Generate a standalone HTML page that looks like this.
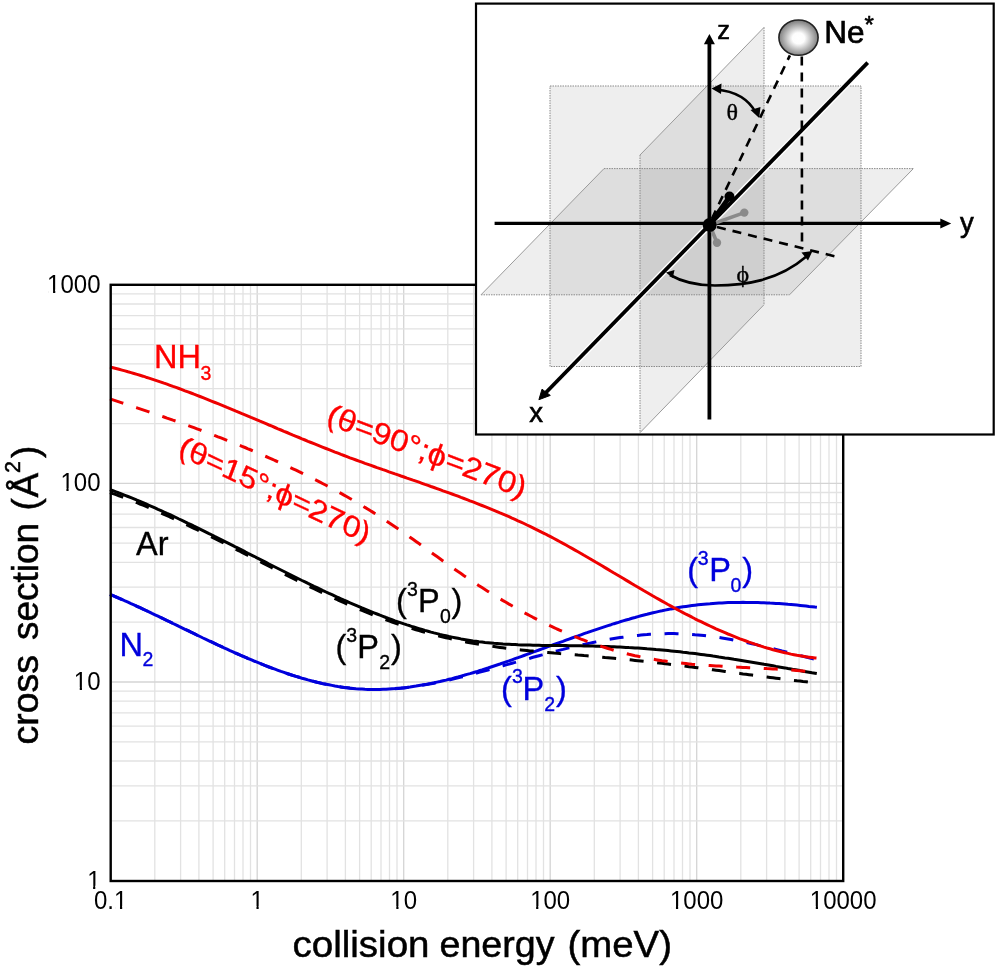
<!DOCTYPE html>
<html><head><meta charset="utf-8">
<style>
html,body{margin:0;padding:0;background:#fff;}
body{width:995px;height:970px;overflow:hidden;}
svg{display:block;font-family:"Liberation Sans",sans-serif;will-change:transform;}
</style></head>
<body>
<svg width="995" height="970" viewBox="0 0 995 970">
<defs>
<radialGradient id="ball" cx="0.5" cy="0.52" r="0.52">
<stop offset="0" stop-color="#ffffff"/>
<stop offset="0.3" stop-color="#fdfdfd"/>
<stop offset="0.65" stop-color="#bababa"/>
<stop offset="1" stop-color="#787878"/>
</radialGradient>
</defs>
<rect width="995" height="970" fill="#fff"/>
<g>
<line x1="154.8" y1="286" x2="154.8" y2="880" stroke="#e2e2e2" stroke-width="1.3"/>
<line x1="180.6" y1="286" x2="180.6" y2="880" stroke="#e2e2e2" stroke-width="1.3"/>
<line x1="198.9" y1="286" x2="198.9" y2="880" stroke="#e2e2e2" stroke-width="1.3"/>
<line x1="213.1" y1="286" x2="213.1" y2="880" stroke="#e2e2e2" stroke-width="1.3"/>
<line x1="224.7" y1="286" x2="224.7" y2="880" stroke="#e2e2e2" stroke-width="1.3"/>
<line x1="234.5" y1="286" x2="234.5" y2="880" stroke="#e2e2e2" stroke-width="1.3"/>
<line x1="243.0" y1="286" x2="243.0" y2="880" stroke="#e2e2e2" stroke-width="1.3"/>
<line x1="250.5" y1="286" x2="250.5" y2="880" stroke="#e2e2e2" stroke-width="1.3"/>
<line x1="257.2" y1="286" x2="257.2" y2="880" stroke="#d4d4d4" stroke-width="1.3"/>
<line x1="301.3" y1="286" x2="301.3" y2="880" stroke="#e2e2e2" stroke-width="1.3"/>
<line x1="327.1" y1="286" x2="327.1" y2="880" stroke="#e2e2e2" stroke-width="1.3"/>
<line x1="345.4" y1="286" x2="345.4" y2="880" stroke="#e2e2e2" stroke-width="1.3"/>
<line x1="359.6" y1="286" x2="359.6" y2="880" stroke="#e2e2e2" stroke-width="1.3"/>
<line x1="371.2" y1="286" x2="371.2" y2="880" stroke="#e2e2e2" stroke-width="1.3"/>
<line x1="381.0" y1="286" x2="381.0" y2="880" stroke="#e2e2e2" stroke-width="1.3"/>
<line x1="389.5" y1="286" x2="389.5" y2="880" stroke="#e2e2e2" stroke-width="1.3"/>
<line x1="397.0" y1="286" x2="397.0" y2="880" stroke="#e2e2e2" stroke-width="1.3"/>
<line x1="403.7" y1="286" x2="403.7" y2="880" stroke="#d4d4d4" stroke-width="1.3"/>
<line x1="447.8" y1="286" x2="447.8" y2="880" stroke="#e2e2e2" stroke-width="1.3"/>
<line x1="473.6" y1="286" x2="473.6" y2="880" stroke="#e2e2e2" stroke-width="1.3"/>
<line x1="491.9" y1="286" x2="491.9" y2="880" stroke="#e2e2e2" stroke-width="1.3"/>
<line x1="506.1" y1="286" x2="506.1" y2="880" stroke="#e2e2e2" stroke-width="1.3"/>
<line x1="517.7" y1="286" x2="517.7" y2="880" stroke="#e2e2e2" stroke-width="1.3"/>
<line x1="527.5" y1="286" x2="527.5" y2="880" stroke="#e2e2e2" stroke-width="1.3"/>
<line x1="536.0" y1="286" x2="536.0" y2="880" stroke="#e2e2e2" stroke-width="1.3"/>
<line x1="543.5" y1="286" x2="543.5" y2="880" stroke="#e2e2e2" stroke-width="1.3"/>
<line x1="550.2" y1="286" x2="550.2" y2="880" stroke="#d4d4d4" stroke-width="1.3"/>
<line x1="594.3" y1="286" x2="594.3" y2="880" stroke="#e2e2e2" stroke-width="1.3"/>
<line x1="620.1" y1="286" x2="620.1" y2="880" stroke="#e2e2e2" stroke-width="1.3"/>
<line x1="638.4" y1="286" x2="638.4" y2="880" stroke="#e2e2e2" stroke-width="1.3"/>
<line x1="652.6" y1="286" x2="652.6" y2="880" stroke="#e2e2e2" stroke-width="1.3"/>
<line x1="664.2" y1="286" x2="664.2" y2="880" stroke="#e2e2e2" stroke-width="1.3"/>
<line x1="674.0" y1="286" x2="674.0" y2="880" stroke="#e2e2e2" stroke-width="1.3"/>
<line x1="682.5" y1="286" x2="682.5" y2="880" stroke="#e2e2e2" stroke-width="1.3"/>
<line x1="690.0" y1="286" x2="690.0" y2="880" stroke="#e2e2e2" stroke-width="1.3"/>
<line x1="696.7" y1="286" x2="696.7" y2="880" stroke="#d4d4d4" stroke-width="1.3"/>
<line x1="740.8" y1="286" x2="740.8" y2="880" stroke="#e2e2e2" stroke-width="1.3"/>
<line x1="766.6" y1="286" x2="766.6" y2="880" stroke="#e2e2e2" stroke-width="1.3"/>
<line x1="784.9" y1="286" x2="784.9" y2="880" stroke="#e2e2e2" stroke-width="1.3"/>
<line x1="799.1" y1="286" x2="799.1" y2="880" stroke="#e2e2e2" stroke-width="1.3"/>
<line x1="810.7" y1="286" x2="810.7" y2="880" stroke="#e2e2e2" stroke-width="1.3"/>
<line x1="820.5" y1="286" x2="820.5" y2="880" stroke="#e2e2e2" stroke-width="1.3"/>
<line x1="829.0" y1="286" x2="829.0" y2="880" stroke="#e2e2e2" stroke-width="1.3"/>
<line x1="836.5" y1="286" x2="836.5" y2="880" stroke="#e2e2e2" stroke-width="1.3"/>
<line x1="112" y1="820.8" x2="842" y2="820.8" stroke="#e2e2e2" stroke-width="1.3"/>
<line x1="112" y1="785.8" x2="842" y2="785.8" stroke="#e2e2e2" stroke-width="1.3"/>
<line x1="112" y1="761.0" x2="842" y2="761.0" stroke="#e2e2e2" stroke-width="1.3"/>
<line x1="112" y1="741.8" x2="842" y2="741.8" stroke="#e2e2e2" stroke-width="1.3"/>
<line x1="112" y1="726.1" x2="842" y2="726.1" stroke="#e2e2e2" stroke-width="1.3"/>
<line x1="112" y1="712.8" x2="842" y2="712.8" stroke="#e2e2e2" stroke-width="1.3"/>
<line x1="112" y1="701.2" x2="842" y2="701.2" stroke="#e2e2e2" stroke-width="1.3"/>
<line x1="112" y1="691.1" x2="842" y2="691.1" stroke="#e2e2e2" stroke-width="1.3"/>
<line x1="112" y1="682.0" x2="842" y2="682.0" stroke="#d4d4d4" stroke-width="1.3"/>
<line x1="112" y1="622.2" x2="842" y2="622.2" stroke="#e2e2e2" stroke-width="1.3"/>
<line x1="112" y1="587.2" x2="842" y2="587.2" stroke="#e2e2e2" stroke-width="1.3"/>
<line x1="112" y1="562.4" x2="842" y2="562.4" stroke="#e2e2e2" stroke-width="1.3"/>
<line x1="112" y1="543.2" x2="842" y2="543.2" stroke="#e2e2e2" stroke-width="1.3"/>
<line x1="112" y1="527.5" x2="842" y2="527.5" stroke="#e2e2e2" stroke-width="1.3"/>
<line x1="112" y1="514.2" x2="842" y2="514.2" stroke="#e2e2e2" stroke-width="1.3"/>
<line x1="112" y1="502.6" x2="842" y2="502.6" stroke="#e2e2e2" stroke-width="1.3"/>
<line x1="112" y1="492.5" x2="842" y2="492.5" stroke="#e2e2e2" stroke-width="1.3"/>
<line x1="112" y1="483.4" x2="842" y2="483.4" stroke="#d4d4d4" stroke-width="1.3"/>
<line x1="112" y1="423.6" x2="842" y2="423.6" stroke="#e2e2e2" stroke-width="1.3"/>
<line x1="112" y1="388.6" x2="842" y2="388.6" stroke="#e2e2e2" stroke-width="1.3"/>
<line x1="112" y1="363.8" x2="842" y2="363.8" stroke="#e2e2e2" stroke-width="1.3"/>
<line x1="112" y1="344.6" x2="842" y2="344.6" stroke="#e2e2e2" stroke-width="1.3"/>
<line x1="112" y1="328.9" x2="842" y2="328.9" stroke="#e2e2e2" stroke-width="1.3"/>
<line x1="112" y1="315.6" x2="842" y2="315.6" stroke="#e2e2e2" stroke-width="1.3"/>
<line x1="112" y1="304.0" x2="842" y2="304.0" stroke="#e2e2e2" stroke-width="1.3"/>
<line x1="112" y1="293.9" x2="842" y2="293.9" stroke="#e2e2e2" stroke-width="1.3"/>
</g>
<g>
<path d="M110.0,594.5 L113.0,595.7 L116.0,597.0 L119.0,598.3 L122.0,599.6 L125.0,600.9 L128.0,602.2 L131.0,603.6 L134.0,604.9 L137.0,606.3 L140.0,607.7 L143.0,609.1 L146.0,610.5 L149.0,611.9 L152.0,613.3 L155.0,614.7 L158.0,616.2 L161.0,617.6 L164.0,619.0 L167.0,620.5 L170.0,621.9 L173.0,623.4 L176.0,624.8 L179.0,626.3 L182.0,627.7 L185.0,629.2 L188.0,630.6 L191.0,632.1 L194.0,633.5 L197.0,635.0 L200.0,636.4 L203.0,637.9 L206.0,639.3 L209.0,640.7 L212.0,642.2 L215.0,643.6 L218.0,645.0 L221.0,646.4 L224.0,647.8 L227.0,649.1 L230.0,650.5 L233.0,651.9 L236.0,653.2 L239.0,654.5 L242.0,655.9 L245.0,657.2 L248.0,658.4 L251.0,659.7 L254.0,661.0 L257.0,662.2 L260.0,663.4 L263.0,664.6 L266.0,665.8 L269.0,667.0 L272.0,668.1 L275.0,669.2 L278.0,670.3 L281.0,671.4 L284.0,672.5 L287.0,673.5 L290.0,674.5 L293.0,675.5 L296.0,676.4 L299.0,677.3 L302.0,678.2 L305.0,679.1 L308.0,679.9 L311.0,680.7 L314.0,681.5 L317.0,682.3 L320.0,683.0 L323.0,683.7 L326.0,684.3 L329.0,684.9 L332.0,685.5 L335.0,686.0 L338.0,686.5 L341.0,687.0 L344.0,687.4 L347.0,687.8 L350.0,688.2 L353.0,688.5 L356.0,688.8 L359.0,689.0 L362.0,689.2 L365.0,689.4 L368.0,689.5 L371.0,689.5 L374.0,689.6 L377.0,689.5 L380.0,689.5 L383.0,689.4 L386.0,689.3 L389.0,689.1 L392.0,688.9 L395.0,688.7 L398.0,688.5 L401.0,688.2 L404.0,687.9 L407.0,687.5 L410.0,687.1 L413.0,686.7 L416.0,686.3 L419.0,685.8 L422.0,685.3 L425.0,684.8 L428.0,684.3 L431.0,683.7 L434.0,683.2 L437.0,682.6 L440.0,681.9 L443.0,681.3 L446.0,680.7 L449.0,680.0 L452.0,679.3 L455.0,678.6 L458.0,677.9 L461.0,677.1 L464.0,676.4 L467.0,675.6 L470.0,674.8 L473.0,674.0 L476.0,673.2 L479.0,672.4 L482.0,671.6 L485.0,670.8 L488.0,670.0 L491.0,669.1 L494.0,668.3 L497.0,667.5 L500.0,666.6 L503.0,665.8 L506.0,664.9 L509.0,664.1 L512.0,663.2 L515.0,662.4 L518.0,661.5 L521.0,660.7 L524.0,659.8 L527.0,659.0 L530.0,658.2 L533.0,657.3 L536.0,656.5 L539.0,655.7 L542.0,654.9 L545.0,654.0 L548.0,653.2 L551.0,652.5 L554.0,651.7 L557.0,650.9 L560.0,650.1 L563.0,649.4 L566.0,648.6 L569.0,647.9 L572.0,647.2 L575.0,646.4 L578.0,645.7 L581.0,645.1 L584.0,644.4 L587.0,643.7 L590.0,643.1 L593.0,642.5 L596.0,641.9 L599.0,641.3 L602.0,640.7 L605.0,640.1 L608.0,639.6 L611.0,639.1 L614.0,638.6 L617.0,638.1 L620.0,637.6 L623.0,637.2 L626.0,636.8 L629.0,636.4 L632.0,636.0 L635.0,635.7 L638.0,635.4 L641.0,635.1 L644.0,634.8 L647.0,634.6 L650.0,634.3 L653.0,634.2 L656.0,634.0 L659.0,633.9 L662.0,633.8 L665.0,633.7 L668.0,633.6 L671.0,633.6 L674.0,633.6 L677.0,633.7 L680.0,633.8 L683.0,633.9 L686.0,634.0 L689.0,634.2 L692.0,634.4 L695.0,634.7 L698.0,634.9 L701.0,635.2 L704.0,635.5 L707.0,635.9 L710.0,636.3 L713.0,636.7 L716.0,637.1 L719.0,637.5 L722.0,638.0 L725.0,638.5 L728.0,639.0 L731.0,639.5 L734.0,640.1 L737.0,640.7 L740.0,641.3 L743.0,641.9 L746.0,642.5 L749.0,643.1 L752.0,643.8 L755.0,644.4 L758.0,645.1 L761.0,645.8 L764.0,646.5 L767.0,647.2 L770.0,647.9 L773.0,648.7 L776.0,649.4 L779.0,650.1 L782.0,650.9 L785.0,651.6 L788.0,652.4 L791.0,653.2 L794.0,653.9 L797.0,654.7 L800.0,655.5 L803.0,656.3 L806.0,657.0 L809.0,657.8 L812.0,658.6 L815.0,659.3 L816.9,659.8" fill="none" stroke="#0000dc" stroke-width="3.0" stroke-linejoin="round" stroke-dasharray="14,13.6"/>
<path d="M110.0,594.3 L113.0,595.6 L116.0,596.9 L119.0,598.2 L122.0,599.5 L125.0,600.9 L128.0,602.2 L131.0,603.6 L134.0,604.9 L137.0,606.3 L140.0,607.7 L143.0,609.1 L146.0,610.5 L149.0,611.9 L152.0,613.4 L155.0,614.8 L158.0,616.2 L161.0,617.7 L164.0,619.1 L167.0,620.6 L170.0,622.0 L173.0,623.5 L176.0,624.9 L179.0,626.4 L182.0,627.8 L185.0,629.3 L188.0,630.7 L191.0,632.2 L194.0,633.6 L197.0,635.1 L200.0,636.5 L203.0,638.0 L206.0,639.4 L209.0,640.8 L212.0,642.2 L215.0,643.6 L218.0,645.1 L221.0,646.4 L224.0,647.8 L227.0,649.2 L230.0,650.6 L233.0,651.9 L236.0,653.3 L239.0,654.6 L242.0,655.9 L245.0,657.2 L248.0,658.5 L251.0,659.7 L254.0,661.0 L257.0,662.2 L260.0,663.4 L263.0,664.6 L266.0,665.8 L269.0,667.0 L272.0,668.1 L275.0,669.2 L278.0,670.3 L281.0,671.4 L284.0,672.4 L287.0,673.5 L290.0,674.5 L293.0,675.4 L296.0,676.4 L299.0,677.3 L302.0,678.2 L305.0,679.0 L308.0,679.9 L311.0,680.7 L314.0,681.5 L317.0,682.2 L320.0,682.9 L323.0,683.6 L326.0,684.2 L329.0,684.8 L332.0,685.4 L335.0,686.0 L338.0,686.5 L341.0,686.9 L344.0,687.4 L347.0,687.7 L350.0,688.1 L353.0,688.4 L356.0,688.7 L359.0,688.9 L362.0,689.1 L365.0,689.3 L368.0,689.4 L371.0,689.4 L374.0,689.5 L377.0,689.5 L380.0,689.4 L383.0,689.3 L386.0,689.2 L389.0,689.0 L392.0,688.8 L395.0,688.6 L398.0,688.3 L401.0,688.1 L404.0,687.7 L407.0,687.4 L410.0,687.0 L413.0,686.5 L416.0,686.1 L419.0,685.6 L422.0,685.1 L425.0,684.6 L428.0,684.0 L431.0,683.4 L434.0,682.8 L437.0,682.1 L440.0,681.5 L443.0,680.8 L446.0,680.1 L449.0,679.3 L452.0,678.6 L455.0,677.8 L458.0,677.0 L461.0,676.1 L464.0,675.3 L467.0,674.4 L470.0,673.6 L473.0,672.7 L476.0,671.8 L479.0,670.8 L482.0,669.9 L485.0,668.9 L488.0,668.0 L491.0,667.0 L494.0,666.0 L497.0,665.0 L500.0,664.0 L503.0,662.9 L506.0,661.9 L509.0,660.9 L512.0,659.8 L515.0,658.7 L518.0,657.7 L521.0,656.6 L524.0,655.5 L527.0,654.4 L530.0,653.3 L533.0,652.2 L536.0,651.1 L539.0,650.0 L542.0,648.9 L545.0,647.8 L548.0,646.7 L551.0,645.6 L554.0,644.5 L557.0,643.4 L560.0,642.3 L563.0,641.3 L566.0,640.2 L569.0,639.1 L572.0,638.0 L575.0,636.9 L578.0,635.9 L581.0,634.8 L584.0,633.7 L587.0,632.7 L590.0,631.6 L593.0,630.6 L596.0,629.6 L599.0,628.6 L602.0,627.6 L605.0,626.6 L608.0,625.6 L611.0,624.7 L614.0,623.7 L617.0,622.8 L620.0,621.8 L623.0,620.9 L626.0,620.0 L629.0,619.2 L632.0,618.3 L635.0,617.5 L638.0,616.6 L641.0,615.8 L644.0,615.0 L647.0,614.3 L650.0,613.5 L653.0,612.8 L656.0,612.1 L659.0,611.4 L662.0,610.8 L665.0,610.1 L668.0,609.5 L671.0,608.9 L674.0,608.4 L677.0,607.8 L680.0,607.3 L683.0,606.8 L686.0,606.4 L689.0,606.0 L692.0,605.6 L695.0,605.2 L698.0,604.8 L701.0,604.5 L704.0,604.2 L707.0,603.9 L710.0,603.7 L713.0,603.4 L716.0,603.2 L719.0,603.0 L722.0,602.9 L725.0,602.7 L728.0,602.6 L731.0,602.5 L734.0,602.5 L737.0,602.4 L740.0,602.4 L743.0,602.3 L746.0,602.4 L749.0,602.4 L752.0,602.4 L755.0,602.5 L758.0,602.6 L761.0,602.7 L764.0,602.8 L767.0,602.9 L770.0,603.1 L773.0,603.2 L776.0,603.4 L779.0,603.6 L782.0,603.8 L785.0,604.0 L788.0,604.3 L791.0,604.5 L794.0,604.8 L797.0,605.1 L800.0,605.4 L803.0,605.7 L806.0,606.0 L809.0,606.4 L812.0,606.7 L815.0,607.1 L816.9,607.3" fill="none" stroke="#0000dc" stroke-width="3.0" stroke-linejoin="round"/>
<path d="M110.0,492.6 L113.0,493.7 L116.0,494.7 L119.0,495.8 L122.0,496.9 L125.0,498.1 L128.0,499.2 L131.0,500.4 L134.0,501.5 L137.0,502.7 L140.0,504.0 L143.0,505.2 L146.0,506.4 L149.0,507.7 L152.0,509.0 L155.0,510.3 L158.0,511.6 L161.0,512.9 L164.0,514.3 L167.0,515.6 L170.0,517.0 L173.0,518.3 L176.0,519.7 L179.0,521.1 L182.0,522.5 L185.0,524.0 L188.0,525.4 L191.0,526.8 L194.0,528.3 L197.0,529.7 L200.0,531.2 L203.0,532.7 L206.0,534.2 L209.0,535.7 L212.0,537.2 L215.0,538.7 L218.0,540.2 L221.0,541.7 L224.0,543.2 L227.0,544.7 L230.0,546.2 L233.0,547.8 L236.0,549.3 L239.0,550.8 L242.0,552.4 L245.0,553.9 L248.0,555.5 L251.0,557.0 L254.0,558.5 L257.0,560.1 L260.0,561.6 L263.0,563.2 L266.0,564.7 L269.0,566.2 L272.0,567.8 L275.0,569.3 L278.0,570.8 L281.0,572.3 L284.0,573.9 L287.0,575.4 L290.0,576.9 L293.0,578.4 L296.0,579.9 L299.0,581.4 L302.0,582.9 L305.0,584.3 L308.0,585.8 L311.0,587.3 L314.0,588.7 L317.0,590.2 L320.0,591.6 L323.0,593.0 L326.0,594.4 L329.0,595.8 L332.0,597.2 L335.0,598.6 L338.0,600.0 L341.0,601.3 L344.0,602.7 L347.0,604.0 L350.0,605.3 L353.0,606.6 L356.0,607.9 L359.0,609.2 L362.0,610.4 L365.0,611.7 L368.0,612.9 L371.0,614.1 L374.0,615.3 L377.0,616.4 L380.0,617.6 L383.0,618.7 L386.0,619.8 L389.0,620.9 L392.0,622.0 L395.0,623.0 L398.0,624.0 L401.0,625.0 L404.0,626.0 L407.0,627.0 L410.0,627.9 L413.0,628.9 L416.0,629.8 L419.0,630.6 L422.0,631.5 L425.0,632.4 L428.0,633.2 L431.0,634.0 L434.0,634.8 L437.0,635.5 L440.0,636.3 L443.0,637.0 L446.0,637.7 L449.0,638.4 L452.0,639.1 L455.0,639.7 L458.0,640.4 L461.0,641.0 L464.0,641.6 L467.0,642.2 L470.0,642.7 L473.0,643.3 L476.0,643.8 L479.0,644.3 L482.0,644.8 L485.0,645.3 L488.0,645.7 L491.0,646.2 L494.0,646.6 L497.0,647.0 L500.0,647.4 L503.0,647.8 L506.0,648.2 L509.0,648.6 L512.0,648.9 L515.0,649.3 L518.0,649.6 L521.0,649.9 L524.0,650.2 L527.0,650.5 L530.0,650.9 L533.0,651.1 L536.0,651.4 L539.0,651.7 L542.0,652.0 L545.0,652.3 L548.0,652.5 L551.0,652.8 L554.0,653.1 L557.0,653.3 L560.0,653.6 L563.0,653.8 L566.0,654.1 L569.0,654.3 L572.0,654.6 L575.0,654.8 L578.0,655.1 L581.0,655.3 L584.0,655.6 L587.0,655.8 L590.0,656.1 L593.0,656.4 L596.0,656.6 L599.0,656.9 L602.0,657.2 L605.0,657.5 L608.0,657.7 L611.0,658.0 L614.0,658.3 L617.0,658.6 L620.0,658.9 L623.0,659.2 L626.0,659.5 L629.0,659.8 L632.0,660.1 L635.0,660.4 L638.0,660.7 L641.0,661.0 L644.0,661.3 L647.0,661.7 L650.0,662.0 L653.0,662.3 L656.0,662.7 L659.0,663.0 L662.0,663.3 L665.0,663.7 L668.0,664.0 L671.0,664.4 L674.0,664.8 L677.0,665.1 L680.0,665.5 L683.0,665.9 L686.0,666.3 L689.0,666.7 L692.0,667.0 L695.0,667.4 L698.0,667.8 L701.0,668.2 L704.0,668.6 L707.0,669.0 L710.0,669.4 L713.0,669.8 L716.0,670.2 L719.0,670.6 L722.0,671.0 L725.0,671.4 L728.0,671.8 L731.0,672.2 L734.0,672.6 L737.0,673.0 L740.0,673.4 L743.0,673.9 L746.0,674.3 L749.0,674.7 L752.0,675.1 L755.0,675.5 L758.0,675.9 L761.0,676.3 L764.0,676.7 L767.0,677.0 L770.0,677.4 L773.0,677.8 L776.0,678.2 L779.0,678.6 L782.0,679.0 L785.0,679.3 L788.0,679.7 L791.0,680.1 L794.0,680.4 L797.0,680.8 L800.0,681.1 L803.0,681.5 L806.0,681.8 L808.0,682.1" fill="none" stroke="#000" stroke-width="3.0" stroke-linejoin="round" stroke-dasharray="14,13.6"/>
<path d="M110.0,489.6 L113.0,490.7 L116.0,491.8 L119.0,493.0 L122.0,494.1 L125.0,495.3 L128.0,496.5 L131.0,497.7 L134.0,498.9 L137.0,500.2 L140.0,501.4 L143.0,502.7 L146.0,504.0 L149.0,505.3 L152.0,506.6 L155.0,507.9 L158.0,509.3 L161.0,510.6 L164.0,512.0 L167.0,513.4 L170.0,514.7 L173.0,516.1 L176.0,517.5 L179.0,519.0 L182.0,520.4 L185.0,521.8 L188.0,523.3 L191.0,524.7 L194.0,526.2 L197.0,527.6 L200.0,529.1 L203.0,530.6 L206.0,532.1 L209.0,533.6 L212.0,535.0 L215.0,536.6 L218.0,538.1 L221.0,539.6 L224.0,541.1 L227.0,542.6 L230.0,544.1 L233.0,545.6 L236.0,547.2 L239.0,548.7 L242.0,550.2 L245.0,551.7 L248.0,553.3 L251.0,554.8 L254.0,556.3 L257.0,557.9 L260.0,559.4 L263.0,560.9 L266.0,562.4 L269.0,564.0 L272.0,565.5 L275.0,567.0 L278.0,568.5 L281.0,570.0 L284.0,571.5 L287.0,573.0 L290.0,574.5 L293.0,576.0 L296.0,577.5 L299.0,579.0 L302.0,580.5 L305.0,581.9 L308.0,583.4 L311.0,584.8 L314.0,586.3 L317.0,587.7 L320.0,589.1 L323.0,590.6 L326.0,592.0 L329.0,593.4 L332.0,594.7 L335.0,596.1 L338.0,597.5 L341.0,598.8 L344.0,600.2 L347.0,601.5 L350.0,602.8 L353.0,604.1 L356.0,605.4 L359.0,606.7 L362.0,608.0 L365.0,609.2 L368.0,610.4 L371.0,611.6 L374.0,612.8 L377.0,614.0 L380.0,615.2 L383.0,616.3 L386.0,617.5 L389.0,618.6 L392.0,619.7 L395.0,620.8 L398.0,621.8 L401.0,622.8 L404.0,623.9 L407.0,624.9 L410.0,625.8 L413.0,626.8 L416.0,627.7 L419.0,628.6 L422.0,629.5 L425.0,630.4 L428.0,631.2 L431.0,632.1 L434.0,632.9 L437.0,633.6 L440.0,634.4 L443.0,635.1 L446.0,635.8 L449.0,636.5 L452.0,637.1 L455.0,637.7 L458.0,638.3 L461.0,638.9 L464.0,639.4 L467.0,639.9 L470.0,640.4 L473.0,640.9 L476.0,641.3 L479.0,641.7 L482.0,642.0 L485.0,642.4 L488.0,642.7 L491.0,643.0 L494.0,643.3 L497.0,643.5 L500.0,643.7 L503.0,644.0 L506.0,644.2 L509.0,644.3 L512.0,644.5 L515.0,644.6 L518.0,644.8 L521.0,644.9 L524.0,645.0 L527.0,645.1 L530.0,645.1 L533.0,645.2 L536.0,645.3 L539.0,645.3 L542.0,645.4 L545.0,645.4 L548.0,645.4 L551.0,645.5 L554.0,645.5 L557.0,645.5 L560.0,645.6 L563.0,645.6 L566.0,645.6 L569.0,645.7 L572.0,645.7 L575.0,645.7 L578.0,645.8 L581.0,645.8 L584.0,645.9 L587.0,645.9 L590.0,646.0 L593.0,646.1 L596.0,646.2 L599.0,646.3 L602.0,646.4 L605.0,646.5 L608.0,646.6 L611.0,646.7 L614.0,646.8 L617.0,647.0 L620.0,647.1 L623.0,647.2 L626.0,647.4 L629.0,647.6 L632.0,647.7 L635.0,647.9 L638.0,648.1 L641.0,648.3 L644.0,648.5 L647.0,648.8 L650.0,649.0 L653.0,649.2 L656.0,649.5 L659.0,649.7 L662.0,650.0 L665.0,650.3 L668.0,650.6 L671.0,650.9 L674.0,651.2 L677.0,651.5 L680.0,651.8 L683.0,652.2 L686.0,652.5 L689.0,652.9 L692.0,653.2 L695.0,653.6 L698.0,654.0 L701.0,654.4 L704.0,654.8 L707.0,655.2 L710.0,655.6 L713.0,656.1 L716.0,656.5 L719.0,657.0 L722.0,657.4 L725.0,657.9 L728.0,658.3 L731.0,658.8 L734.0,659.3 L737.0,659.7 L740.0,660.2 L743.0,660.7 L746.0,661.2 L749.0,661.7 L752.0,662.2 L755.0,662.7 L758.0,663.2 L761.0,663.7 L764.0,664.3 L767.0,664.8 L770.0,665.3 L773.0,665.8 L776.0,666.4 L779.0,666.9 L782.0,667.4 L785.0,667.9 L788.0,668.5 L791.0,669.0 L794.0,669.6 L797.0,670.1 L800.0,670.6 L803.0,671.2 L806.0,671.7 L809.0,672.2 L812.0,672.8 L815.0,673.3 L816.8,673.6" fill="none" stroke="#000" stroke-width="3.0" stroke-linejoin="round"/>
<path d="M110.0,398.8 L113.0,399.8 L116.0,400.8 L119.0,401.8 L122.0,402.8 L125.0,403.8 L128.0,404.8 L131.0,405.8 L134.0,406.8 L137.0,407.8 L140.0,408.8 L143.0,409.8 L146.0,410.8 L149.0,411.8 L152.0,412.9 L155.0,413.9 L158.0,414.9 L161.0,416.0 L164.0,417.0 L167.0,418.1 L170.0,419.1 L173.0,420.2 L176.0,421.2 L179.0,422.3 L182.0,423.4 L185.0,424.4 L188.0,425.5 L191.0,426.6 L194.0,427.7 L197.0,428.8 L200.0,429.9 L203.0,431.1 L206.0,432.2 L209.0,433.3 L212.0,434.5 L215.0,435.6 L218.0,436.8 L221.0,437.9 L224.0,439.1 L227.0,440.3 L230.0,441.5 L233.0,442.7 L236.0,443.9 L239.0,445.1 L242.0,446.3 L245.0,447.5 L248.0,448.8 L251.0,450.0 L254.0,451.3 L257.0,452.6 L260.0,453.9 L263.0,455.2 L266.0,456.5 L269.0,457.8 L272.0,459.1 L275.0,460.5 L278.0,461.8 L281.0,463.2 L284.0,464.6 L287.0,466.0 L290.0,467.4 L293.0,468.8 L296.0,470.2 L299.0,471.7 L302.0,473.1 L305.0,474.6 L308.0,476.1 L311.0,477.6 L314.0,479.1 L317.0,480.6 L320.0,482.1 L323.0,483.7 L326.0,485.3 L329.0,486.9 L332.0,488.5 L335.0,490.1 L338.0,491.7 L341.0,493.4 L344.0,495.1 L347.0,496.8 L350.0,498.5 L353.0,500.2 L356.0,502.0 L359.0,503.8 L362.0,505.5 L365.0,507.4 L368.0,509.2 L371.0,511.1 L374.0,512.9 L377.0,514.8 L380.0,516.8 L383.0,518.7 L386.0,520.7 L389.0,522.7 L392.0,524.7 L395.0,526.7 L398.0,528.8 L401.0,530.8 L404.0,532.9 L407.0,535.0 L410.0,537.2 L413.0,539.3 L416.0,541.5 L419.0,543.6 L422.0,545.8 L425.0,548.0 L428.0,550.1 L431.0,552.3 L434.0,554.5 L437.0,556.6 L440.0,558.8 L443.0,561.0 L446.0,563.1 L449.0,565.2 L452.0,567.4 L455.0,569.5 L458.0,571.6 L461.0,573.6 L464.0,575.7 L467.0,577.7 L470.0,579.7 L473.0,581.7 L476.0,583.7 L479.0,585.7 L482.0,587.6 L485.0,589.5 L488.0,591.4 L491.0,593.3 L494.0,595.1 L497.0,597.0 L500.0,598.8 L503.0,600.6 L506.0,602.3 L509.0,604.1 L512.0,605.8 L515.0,607.5 L518.0,609.2 L521.0,610.9 L524.0,612.5 L527.0,614.1 L530.0,615.7 L533.0,617.3 L536.0,618.8 L539.0,620.3 L542.0,621.8 L545.0,623.3 L548.0,624.7 L551.0,626.2 L554.0,627.6 L557.0,629.0 L560.0,630.3 L563.0,631.6 L566.0,632.9 L569.0,634.2 L572.0,635.5 L575.0,636.7 L578.0,637.9 L581.0,639.1 L584.0,640.2 L587.0,641.3 L590.0,642.4 L593.0,643.5 L596.0,644.6 L599.0,645.6 L602.0,646.6 L605.0,647.5 L608.0,648.5 L611.0,649.4 L614.0,650.3 L617.0,651.1 L620.0,652.0 L623.0,652.8 L626.0,653.5 L629.0,654.3 L632.0,655.0 L635.0,655.7 L638.0,656.3 L641.0,657.0 L644.0,657.6 L647.0,658.1 L650.0,658.7 L653.0,659.2 L656.0,659.7 L659.0,660.2 L662.0,660.7 L665.0,661.1 L668.0,661.5 L671.0,661.9 L674.0,662.3 L677.0,662.6 L680.0,663.0 L683.0,663.3 L686.0,663.6 L689.0,663.9 L692.0,664.2 L695.0,664.4 L698.0,664.7 L701.0,664.9 L704.0,665.2 L707.0,665.4 L710.0,665.6 L713.0,665.8 L716.0,666.0 L719.0,666.1 L722.0,666.3 L725.0,666.5 L728.0,666.6 L731.0,666.8 L734.0,666.9 L737.0,667.1 L740.0,667.2 L743.0,667.4 L746.0,667.5 L749.0,667.7 L752.0,667.8 L755.0,667.9 L758.0,668.1 L761.0,668.2 L764.0,668.4 L767.0,668.6 L770.0,668.7 L773.0,668.9 L776.0,669.1 L779.0,669.3 L782.0,669.5 L785.0,669.7 L788.0,669.9 L791.0,670.1 L794.0,670.3 L797.0,670.6 L800.0,670.8 L803.0,671.1 L806.0,671.4 L808.0,671.6" fill="none" stroke="#ee0000" stroke-width="3.0" stroke-linejoin="round" stroke-dasharray="14,13.6"/>
<path d="M110.0,367.0 L113.0,367.7 L116.0,368.5 L119.0,369.3 L122.0,370.1 L125.0,370.9 L128.0,371.8 L131.0,372.6 L134.0,373.5 L137.0,374.4 L140.0,375.3 L143.0,376.2 L146.0,377.2 L149.0,378.1 L152.0,379.1 L155.0,380.1 L158.0,381.1 L161.0,382.1 L164.0,383.2 L167.0,384.2 L170.0,385.3 L173.0,386.4 L176.0,387.4 L179.0,388.5 L182.0,389.6 L185.0,390.8 L188.0,391.9 L191.0,393.0 L194.0,394.2 L197.0,395.3 L200.0,396.5 L203.0,397.7 L206.0,398.9 L209.0,400.1 L212.0,401.3 L215.0,402.5 L218.0,403.7 L221.0,404.9 L224.0,406.1 L227.0,407.4 L230.0,408.6 L233.0,409.8 L236.0,411.1 L239.0,412.3 L242.0,413.6 L245.0,414.8 L248.0,416.1 L251.0,417.4 L254.0,418.6 L257.0,419.9 L260.0,421.2 L263.0,422.4 L266.0,423.7 L269.0,425.0 L272.0,426.2 L275.0,427.5 L278.0,428.8 L281.0,430.0 L284.0,431.3 L287.0,432.5 L290.0,433.8 L293.0,435.1 L296.0,436.3 L299.0,437.5 L302.0,438.8 L305.0,440.0 L308.0,441.3 L311.0,442.5 L314.0,443.7 L317.0,444.9 L320.0,446.1 L323.0,447.3 L326.0,448.5 L329.0,449.7 L332.0,450.9 L335.0,452.1 L338.0,453.2 L341.0,454.4 L344.0,455.5 L347.0,456.6 L350.0,457.8 L353.0,458.9 L356.0,460.0 L359.0,461.1 L362.0,462.2 L365.0,463.3 L368.0,464.3 L371.0,465.4 L374.0,466.5 L377.0,467.6 L380.0,468.6 L383.0,469.7 L386.0,470.7 L389.0,471.8 L392.0,472.8 L395.0,473.9 L398.0,474.9 L401.0,476.0 L404.0,477.0 L407.0,478.1 L410.0,479.1 L413.0,480.2 L416.0,481.2 L419.0,482.2 L422.0,483.3 L425.0,484.4 L428.0,485.4 L431.0,486.5 L434.0,487.5 L437.0,488.6 L440.0,489.7 L443.0,490.8 L446.0,491.8 L449.0,492.9 L452.0,494.0 L455.0,495.1 L458.0,496.2 L461.0,497.4 L464.0,498.5 L467.0,499.6 L470.0,500.8 L473.0,501.9 L476.0,503.1 L479.0,504.3 L482.0,505.5 L485.0,506.7 L488.0,507.9 L491.0,509.1 L494.0,510.3 L497.0,511.6 L500.0,512.9 L503.0,514.1 L506.0,515.4 L509.0,516.7 L512.0,518.1 L515.0,519.4 L518.0,520.8 L521.0,522.1 L524.0,523.5 L527.0,525.0 L530.0,526.4 L533.0,527.8 L536.0,529.3 L539.0,530.8 L542.0,532.3 L545.0,533.8 L548.0,535.4 L551.0,536.9 L554.0,538.5 L557.0,540.1 L560.0,541.7 L563.0,543.4 L566.0,545.0 L569.0,546.7 L572.0,548.4 L575.0,550.1 L578.0,551.8 L581.0,553.5 L584.0,555.3 L587.0,557.0 L590.0,558.7 L593.0,560.5 L596.0,562.3 L599.0,564.0 L602.0,565.8 L605.0,567.6 L608.0,569.4 L611.0,571.2 L614.0,573.0 L617.0,574.7 L620.0,576.5 L623.0,578.3 L626.0,580.1 L629.0,581.9 L632.0,583.7 L635.0,585.5 L638.0,587.2 L641.0,589.0 L644.0,590.8 L647.0,592.5 L650.0,594.2 L653.0,596.0 L656.0,597.7 L659.0,599.4 L662.0,601.1 L665.0,602.8 L668.0,604.5 L671.0,606.1 L674.0,607.8 L677.0,609.4 L680.0,611.0 L683.0,612.6 L686.0,614.2 L689.0,615.7 L692.0,617.2 L695.0,618.8 L698.0,620.3 L701.0,621.7 L704.0,623.2 L707.0,624.6 L710.0,626.0 L713.0,627.4 L716.0,628.8 L719.0,630.1 L722.0,631.4 L725.0,632.7 L728.0,634.0 L731.0,635.2 L734.0,636.4 L737.0,637.6 L740.0,638.8 L743.0,639.9 L746.0,641.0 L749.0,642.1 L752.0,643.1 L755.0,644.2 L758.0,645.2 L761.0,646.1 L764.0,647.1 L767.0,648.0 L770.0,648.8 L773.0,649.7 L776.0,650.5 L779.0,651.3 L782.0,652.0 L785.0,652.7 L788.0,653.4 L791.0,654.1 L794.0,654.7 L797.0,655.3 L800.0,655.8 L803.0,656.3 L806.0,656.8 L809.0,657.2 L812.0,657.6 L815.0,658.0 L816.5,658.1" fill="none" stroke="#ee0000" stroke-width="3.0" stroke-linejoin="round"/>
</g>
<rect x="110.7" y="284.8" width="732.5" height="596.2" fill="none" stroke="#000" stroke-width="2.4"/>
<!-- y tick labels -->
<g font-size="24" fill="#000">
<text transform="translate(100.5,292.6) scale(1,1.065)" text-anchor="end">1000</text>
<text transform="translate(100.5,491.3) scale(1,1.065)" text-anchor="end">100</text>
<text transform="translate(100.5,690.3) scale(1,1.065)" text-anchor="end">10</text>
<text transform="translate(100.5,888.7) scale(1,1.065)" text-anchor="end">1</text>
<text transform="translate(110.7,909.2) scale(1,1.065)" text-anchor="middle">0.1</text>
<text transform="translate(257.2,909.2) scale(1,1.065)" text-anchor="middle">1</text>
<text transform="translate(403.7,909.2) scale(1,1.065)" text-anchor="middle">10</text>
<text transform="translate(550.2,909.2) scale(1,1.065)" text-anchor="middle">100</text>
<text transform="translate(696.7,909.2) scale(1,1.065)" text-anchor="middle">1000</text>
<text transform="translate(843.2,909.2) scale(1,1.065)" text-anchor="middle">10000</text>
</g>
<g>
<rect x="48.31" y="289.60" width="4.75" height="3.5" fill="#fff"/>
<rect x="55.26" y="289.60" width="4.70" height="3.5" fill="#fff"/>
<rect x="61.65" y="488.30" width="4.75" height="3.5" fill="#fff"/>
<rect x="68.60" y="488.30" width="4.70" height="3.5" fill="#fff"/>
<rect x="75.00" y="687.30" width="4.75" height="3.5" fill="#fff"/>
<rect x="81.95" y="687.30" width="4.70" height="3.5" fill="#fff"/>
<rect x="88.34" y="885.70" width="4.75" height="3.5" fill="#fff"/>
<rect x="95.29" y="885.70" width="4.70" height="3.5" fill="#fff"/>
<rect x="115.23" y="906.20" width="4.75" height="3.5" fill="#fff"/>
<rect x="122.18" y="906.20" width="4.70" height="3.5" fill="#fff"/>
<rect x="251.72" y="906.20" width="4.75" height="3.5" fill="#fff"/>
<rect x="258.67" y="906.20" width="4.70" height="3.5" fill="#fff"/>
<rect x="391.55" y="906.20" width="4.75" height="3.5" fill="#fff"/>
<rect x="398.50" y="906.20" width="4.70" height="3.5" fill="#fff"/>
<rect x="531.38" y="906.20" width="4.75" height="3.5" fill="#fff"/>
<rect x="538.33" y="906.20" width="4.70" height="3.5" fill="#fff"/>
<rect x="671.20" y="906.20" width="4.75" height="3.5" fill="#fff"/>
<rect x="678.15" y="906.20" width="4.70" height="3.5" fill="#fff"/>
<rect x="811.03" y="906.20" width="4.75" height="3.5" fill="#fff"/>
<rect x="817.98" y="906.20" width="4.70" height="3.5" fill="#fff"/>
</g>
<g font-size="37" stroke="#000" stroke-width="0.5">
<text x="292.5" y="957" textLength="137" lengthAdjust="spacingAndGlyphs">collision</text>
<text x="439.5" y="957" textLength="115" lengthAdjust="spacingAndGlyphs">energy</text>
<text x="567.5" y="957" textLength="104.5" lengthAdjust="spacingAndGlyphs">(meV)</text>
</g>
<g font-size="37" stroke="#000" stroke-width="0.5" transform="translate(38.3,0) rotate(-90)">
<text x="-744.5" y="0" textLength="89.5" lengthAdjust="spacingAndGlyphs">cross</text>
<text x="-640" y="0" textLength="117" lengthAdjust="spacingAndGlyphs">section</text>
<text x="-510.5">(</text>
<text x="-497.5">Å</text>
<text x="-472.9" y="-18" font-size="21.5">2</text>
<text x="-457.9">)</text>
</g>
<!-- curve labels -->
<g font-size="32.5">
<g fill="#f00" stroke="#f00" stroke-width="0.35"><text x="154" y="368.4">NH</text><text x="200.5" y="379.6" font-size="19.5">3</text></g>
<text x="136" y="554.8" fill="#000" stroke="#000" stroke-width="0.35">Ar</text>
<g fill="#0000dc" stroke="#0000dc" stroke-width="0.35"><text x="119.5" y="656">N</text><text x="142.5" y="666" font-size="19.5">2</text></g>
<g fill="#000" stroke="#000" stroke-width="0.35">
<text x="396" y="611.8">(</text><text x="407" y="596.1" font-size="19.5">3</text><text x="418" y="611.8">P</text><text x="440" y="622.7" font-size="19.5">0</text><text x="451.5" y="611.8">)</text>
<text x="335.6" y="657.8">(</text><text x="346.2" y="642.1" font-size="19.5">3</text><text x="357.2" y="657.8">P</text><text x="379.2" y="669.4" font-size="19.5">2</text><text x="391.1" y="657.8">)</text>
</g>
<g fill="#0000dc" stroke="#0000dc" stroke-width="0.35">
<text x="687.2" y="581.4">(</text><text x="697.8" y="564.9" font-size="19.5">3</text><text x="709.3" y="581.4">P</text><text x="730.4" y="592.3" font-size="19.5">0</text><text x="742.3" y="581.4">)</text>
<text x="501" y="699.6">(</text><text x="512" y="683.1" font-size="19.5">3</text><text x="522.6" y="699.6">P</text><text x="544.2" y="710.8" font-size="19.5">2</text><text x="556.1" y="699.6">)</text>
</g>
</g>
<g font-size="32" font-style="italic" fill="#f00" stroke="#f00" stroke-width="0.35">
<text transform="translate(326.5,424) skewY(13.4) rotate(8)" textLength="199.5" lengthAdjust="spacingAndGlyphs">(θ=90°;ϕ=270)</text>
<text transform="translate(178.6,455.5) skewY(18.4) rotate(8)" textLength="191" lengthAdjust="spacingAndGlyphs">(θ=15°;ϕ=270)</text>
</g>
<!-- INSET -->
<g>
<rect x="476" y="3.6" width="517.7" height="430.9" fill="#fff" stroke="#000" stroke-width="2.2"/>
<g fill="#000" fill-opacity="0.066" stroke="none">
<rect x="550" y="86" width="311" height="280.5"/>
<polygon points="640,155 764,27.4 764,304.7 640,432.7"/>
<polygon points="604,168.6 913.4,168.6 789.5,294.8 481,294.8"/>
</g>
<g fill="none" stroke="#8a8a8a" stroke-width="1" stroke-dasharray="1.5,1">
<rect x="550" y="86" width="311" height="280.5"/>
<line x1="640" y1="155" x2="640" y2="432.7"/>
<line x1="764" y1="27.4" x2="764" y2="304.7"/>
<line x1="604" y1="168.6" x2="913.4" y2="168.6"/>
<line x1="481" y1="294.8" x2="789.5" y2="294.8"/>
</g>
<g fill="none" stroke="#9a9a9a" stroke-width="1">
<line x1="640" y1="155" x2="764" y2="27.4"/>
<line x1="640" y1="432.7" x2="764" y2="304.7"/>
<line x1="604" y1="168.6" x2="481" y2="294.8"/>
<line x1="913.4" y1="168.6" x2="789.5" y2="294.8"/>
</g>
<!-- axes -->
<g stroke="#000" fill="none">
<line x1="709.4" y1="419.5" x2="709.4" y2="43" stroke-width="3.8"/>
<line x1="494.6" y1="223.4" x2="941" y2="223.4" stroke-width="3.2"/>
<line x1="867.7" y1="62.7" x2="545" y2="393.5" stroke-width="6.5" stroke="#fff"/>
<line x1="867.7" y1="62.7" x2="545" y2="393.5" stroke-width="3.8"/>
</g>
<polygon points="709.4,34 703.9,44.2 714.9,44.2" fill="#000"/>
<polygon points="951.2,223.4 940.3,218.4 940.3,228.4" fill="#000"/>
<polygon points="538.9,399.7 542,389.2 550.3,395.4" fill="#000" stroke="#000" stroke-width="1" stroke-linejoin="round"/>
<!-- dashed lines -->
<g stroke="#000" stroke-width="2.6" fill="none" stroke-dasharray="9,7">
<line x1="789.9" y1="55.4" x2="712" y2="218.5" stroke-dashoffset="4"/>
<line x1="801.8" y1="56.5" x2="802" y2="247.5"/>
<line x1="717" y1="227" x2="837.5" y2="257"/>
</g>
<!-- arcs -->
<g stroke="#000" stroke-width="2.6" fill="none">
<path d="M716,89.5 Q745,92 756,113"/>
<path d="M670,275 C684,283 698,285.5 715,285.5 C745,285.5 778,281 807,256"/>
</g>
<polygon points="711.5,88.6 721.5,83.5 721,94" fill="#000"/>
<polygon points="759.2,118 750.5,110 760.5,107" fill="#000"/>
<polygon points="666,272.5 674.5,270 672.8,278" fill="#000"/>
<polygon points="812.5,251 801.5,252.5 808,260.5" fill="#000"/>
<!-- molecule -->
<g>
<line x1="709.7" y1="225" x2="744.3" y2="212.6" stroke="#8a8a8a" stroke-width="3.6"/>
<line x1="709.7" y1="225" x2="717" y2="242.7" stroke="#8a8a8a" stroke-width="3.6"/>
<circle cx="744.3" cy="212.6" r="4.2" fill="#8a8a8a"/>
<circle cx="717" cy="242.7" r="4.2" fill="#8a8a8a"/>
<line x1="709.7" y1="225" x2="729.5" y2="197" stroke="#000" stroke-width="5"/>
<circle cx="729.5" cy="196.5" r="5" fill="#000"/>
<circle cx="709.7" cy="225" r="7" fill="#000"/>
</g>
<!-- ball -->
<ellipse cx="798.5" cy="37.6" rx="19.6" ry="17.6" fill="url(#ball)" stroke="#222" stroke-width="1.6"/>
<text x="824.2" y="43.1" font-size="31.5" stroke="#000" stroke-width="0.7">Ne</text>
<text x="864.6" y="33.2" font-size="24" stroke="#000" stroke-width="0.6">*</text>
<text x="717.2" y="39.4" font-size="25.5" stroke="#000" stroke-width="0.6">z</text>
<text x="960" y="231.5" font-size="27.5" stroke="#000" stroke-width="0.6">y</text>
<text x="529.2" y="422" font-size="27.5" stroke="#000" stroke-width="0.6">x</text>
<text x="726.5" y="120" font-size="24" font-family="Liberation Serif" stroke="#000" stroke-width="0.4">θ</text>
<text x="736.5" y="281.5" font-size="24" font-family="Liberation Serif" stroke="#000" stroke-width="0.4">ϕ</text>
</g>
</svg>
</body></html>
